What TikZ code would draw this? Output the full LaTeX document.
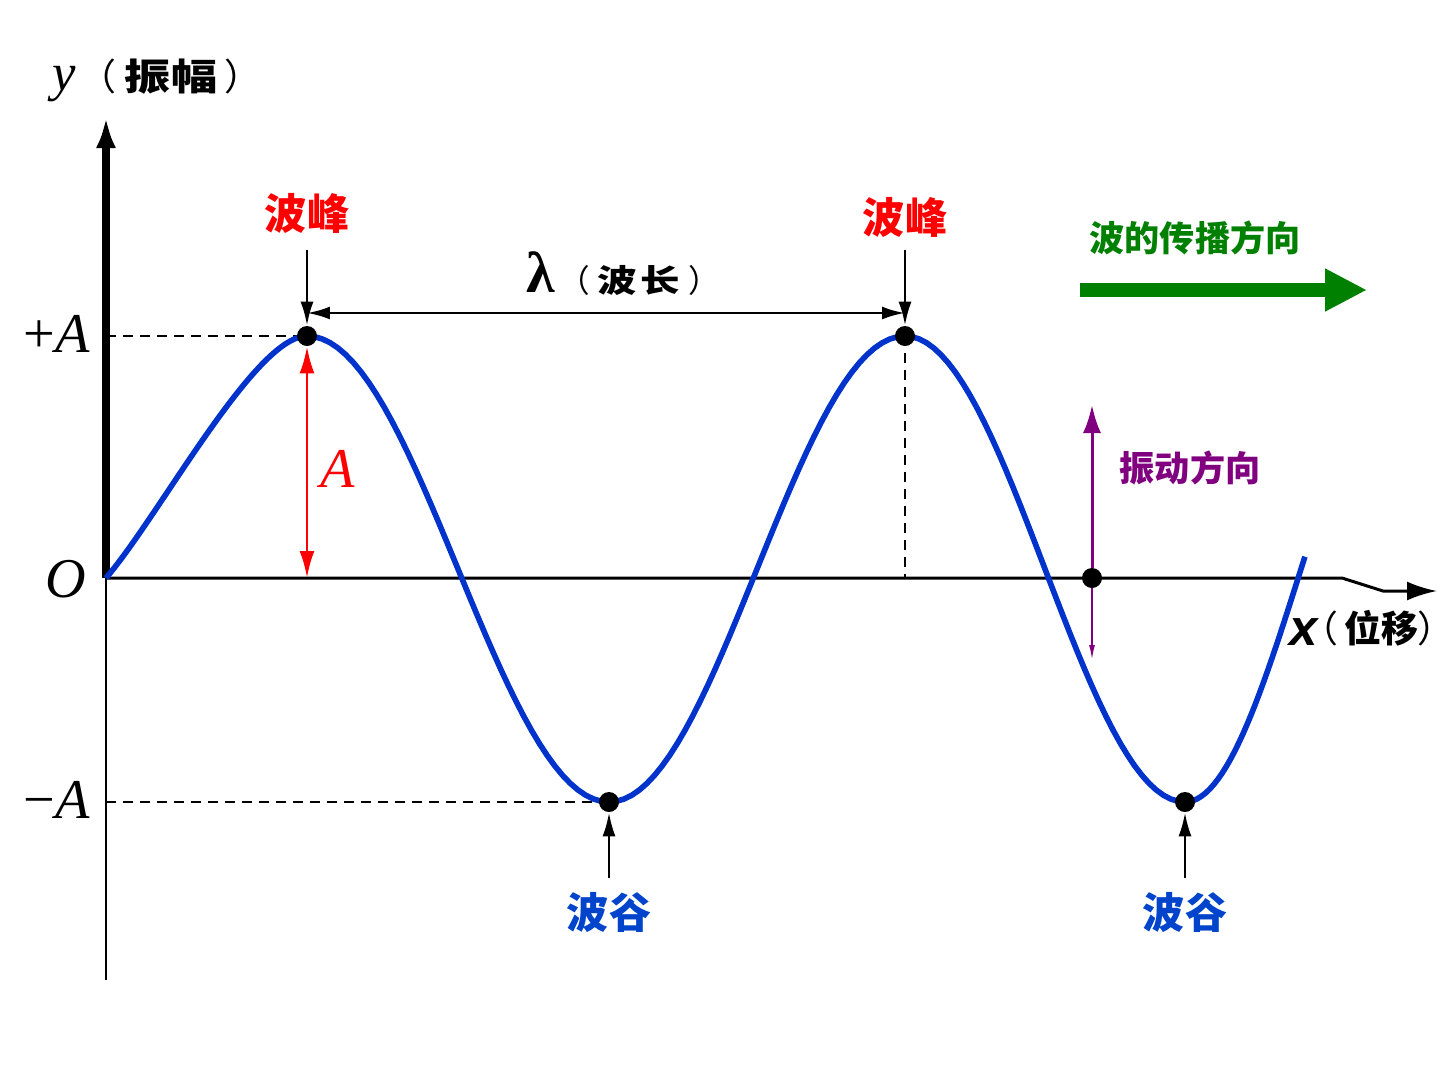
\documentclass[tikz,border=0pt]{standalone}
\usepackage{fontspec}
\setmainfont{Liberation Serif}
\newfontfamily\cjk{Noto Sans CJK SC}
\newfontfamily\cjkwide{Noto Sans CJK SC}[FakeStretch=1.25]
\newfontfamily\sansx{Liberation Sans}
\usetikzlibrary{arrows.meta}
\definecolor{wavecol}{RGB}{0,51,204}
\definecolor{troughcol}{RGB}{0,68,204}
\definecolor{crestcol}{RGB}{255,0,0}
\definecolor{propcol}{RGB}{0,128,0}
\definecolor{vibcol}{RGB}{128,0,128}
\newcommand{\lp}[1]{{\cjk\fontsize{#1}{#1}\selectfont （}}
\newcommand{\rp}[1]{{\cjk\fontsize{#1}{#1}\selectfont ）}}
\tikzstyle{dot} = [circle,fill=black,inner sep=0pt,minimum size=0.4cm]
\tikzstyle{ptr} = [line width=1.5pt,-{Latex[length=0.48cm,width=0.26cm]}]
\tikzstyle{dims} = [line width=1.6pt,{Latex[length=0.46cm,width=0.26cm]}-{Latex[length=0.46cm,width=0.26cm]}]
\tikzstyle{guide} = [line width=1.4pt,dash pattern=on 0.2cm off 0.14cm]
\tikzstyle{wave} = [line width=3.2pt,color=wavecol]
\tikzstyle{zhbig} = [inner sep=0pt,font=\cjk\bfseries\fontsize{24}{24}\selectfont]
\tikzstyle{zhmid} = [inner sep=0pt,font=\cjk\bfseries\fontsize{20}{20}\selectfont]
\tikzstyle{latin} = [inner sep=0pt,font=\fontsize{32}{32}\selectfont\itshape]

\begin{document}
\begin{tikzpicture}[x=0.02cm,y=-0.02cm]
\useasboundingbox (0,0) rectangle (1448,1086);
\coordinate (O) at (106,578);
\coordinate (yend) at (106,117);
\coordinate (ybot) at (106,980);
\coordinate (xbend) at (1342,578);
\coordinate (xdrop) at (1383,591);
\coordinate (xend) at (1437,591);
\coordinate (cA) at (307,336);
\coordinate (cB) at (905,336);
\coordinate (tA) at (609,802);
\coordinate (tB) at (1185,802);
\coordinate (pt) at (1092,578);

\draw[line width=4.6pt,-{Latex[length=0.62cm,width=0.4cm]}] (O) -- (yend);
\draw[line width=1.7pt] (O) -- (ybot);
\draw[line width=1.7pt,-{Latex[length=0.6cm,width=0.38cm]}] (O) -- (xbend) -- (xdrop) -- (xend);

\draw[guide] (O |- cA) -- (cA);
\draw[guide] (O |- tA) -- (tA);
\draw[guide] (cB) -- (cB |- O);

\draw[wave] (O) .. controls (160,515) and (255,336) .. (cA)
  -- plot[domain=0:1,samples=40] ({307+302*\x},{336+466*(1-cos(180*\x))/2})
  -- plot[domain=0:1,samples=40] ({609+296*\x},{802-466*(1-cos(180*\x))/2})
  -- plot[domain=0:1,samples=40] ({905+280*\x},{336+466*(1-cos(180*\x))/2})
  -- plot[domain=0:0.517,samples=30] ({1185+232*\x},{802-466*(1-cos(180*\x))/2});

\node[dot] (crestA) at (cA) {};
\node[dot] (crestB) at (cB) {};
\node[dot] (troughA) at (tA) {};
\node[dot] (troughB) at (tB) {};
\node[dot] (particle) at (pt) {};

\node[anchor=base west,inner sep=0pt] (ylbl) at (52,90)
  {{\fontsize{30}{30}\selectfont\itshape y}\kern2pt\lp{21}\kern5pt{\cjkwide\bfseries\fontsize{21}{21}\selectfont 振幅}\kern4pt\rp{21}};
\node[anchor=base west,inner sep=0pt] (xvar) at (1289,645)
  {\sansx\bfseries\itshape\fontsize{29}{29}\selectfont x};
\node[anchor=base west,inner sep=0pt] (xword) at (1322,642)
  {\kern-12pt\lp{21}\kern3.4pt{\cjk\bfseries\fontsize{21}{21}\selectfont 位移}\rp{21}\kern-12pt};
\node[latin,anchor=base east] (plusA) at (90,352) {\upshape+\itshape A};
\node[latin,anchor=base east] (minusA) at (90,818) {\upshape−\itshape A};
\node[latin,anchor=base east] (origin) at (86,597) {O};
\node[latin,anchor=base west,text=crestcol] (amp) at (320,487) {A};

\node[zhbig,text=crestcol] (crestAlbl) at (307,213) {波峰};
\node[zhbig,text=crestcol] (crestBlbl) at (905,217) {波峰};
\node[zhbig,text=troughcol] (troughAlbl) at (609,912) {波谷};
\node[zhbig,text=troughcol] (troughBlbl) at (1185,912) {波谷};
\node[zhmid,text=propcol] (proplbl) at (1195,238) {波的传播方向};
\node[zhmid,text=vibcol] (viblbl) at (1190,468) {振动方向};
\node[anchor=base west,inner sep=0pt] (lamlbl) at (526,292)
  {{\bfseries\fontsize{33}{33}\selectfont λ}\kern2pt\lp{18}\kern4pt{\cjkwide\bfseries\fontsize{18}{18}\selectfont 波\kern2pt 长}\kern5pt\rp{18}};

\coordinate (cAtop) at (307,250);
\coordinate (cBtop) at (905,250);
\coordinate (tAbot) at (609,878);
\coordinate (tBbot) at (1185,878);
\draw[ptr] (cAtop) -- (crestA);
\draw[ptr] (cBtop) -- (crestB);
\draw[ptr] (tAbot) -- (troughA);
\draw[ptr] (tBbot) -- (troughB);

\coordinate (lamL) at (307,313);
\coordinate (lamR) at (905,313);
\draw[dims] (lamL) -- (lamR);
\draw[dims,color=crestcol,{Latex[length=0.54cm,width=0.3cm]}-{Latex[length=0.54cm,width=0.3cm]}] (crestA) -- (crestA |- O);

\coordinate (vibtop) at (1092,405);
\coordinate (vibbot) at (1092,660);
\draw[line width=1.7pt,color=vibcol,-{Latex[length=0.56cm,width=0.36cm]}] (particle) -- (vibtop);
\draw[line width=1pt,color=vibcol,-{Latex[length=0.3cm,width=0.12cm]}] (particle) -- (vibbot);

\coordinate (propL) at (1080,290);
\coordinate (propR) at (1367,290);
\draw[line width=0.28cm,color=propcol,-{Triangle[length=0.84cm,width=0.8cm]}] (propL) -- (propR);
\end{tikzpicture}
\end{document}
